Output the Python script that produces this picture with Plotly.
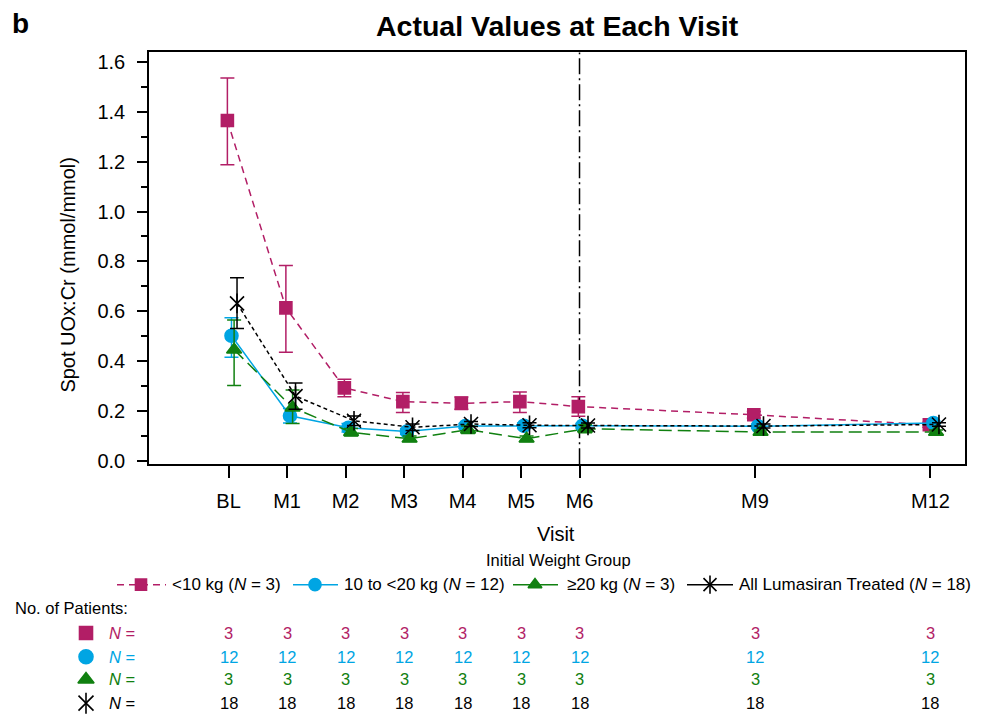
import plotly.graph_objects as go

# the page adds an 8px body margin; positions below are given in page pixels
OFF = 8
W, H = 986 - OFF, 722 - OFF

# ---------------- data ----------------
visits = ["BL", "M1", "M2", "M3", "M4", "M5", "M6", "M9", "M12"]
months = [0, 1, 2, 3, 4, 5, 6, 9, 12]

lt10_mean = [1.365, 0.614, 0.293, 0.238, 0.231, 0.238, 0.218, 0.185, 0.145]
lt10_upper = [1.536, 0.784, 0.328, 0.274, 0.256, 0.276, 0.257, 0.198, 0.155]
lt10_lower = [1.188, 0.436, 0.257, 0.194, 0.207, 0.194, 0.179, 0.172, 0.135]

mid_mean = [0.502, 0.181, 0.133, 0.118, 0.140, 0.141, 0.141, 0.139, 0.152]
mid_upper = [0.574, 0.210, 0.150, 0.130, 0.150, 0.152, 0.150, 0.147, 0.160]
mid_lower = [0.416, 0.152, 0.116, 0.106, 0.130, 0.130, 0.132, 0.131, 0.144]

ge20_mean = [0.446, 0.214, 0.115, 0.089, 0.125, 0.089, 0.129, 0.116, 0.116]
ge20_upper = [0.565, 0.284, 0.130, 0.100, 0.140, 0.100, 0.145, 0.124, 0.124]
ge20_lower = [0.303, 0.150, 0.100, 0.078, 0.110, 0.078, 0.113, 0.108, 0.108]

all_mean = [0.632, 0.260, 0.161, 0.135, 0.148, 0.143, 0.142, 0.140, 0.146]
all_upper = [0.735, 0.313, 0.180, 0.148, 0.158, 0.153, 0.152, 0.148, 0.153]
all_lower = [0.531, 0.207, 0.142, 0.122, 0.138, 0.133, 0.132, 0.132, 0.139]

n_lt10 = [3, 3, 3, 3, 3, 3, 3, 3, 3]
n_mid = [12, 12, 12, 12, 12, 12, 12, 12, 12]
n_ge20 = [3, 3, 3, 3, 3, 3, 3, 3, 3]
n_all = [18, 18, 18, 18, 18, 18, 18, 18, 18]

group_labels = ["&lt;10 kg (<i>N</i> = 3)", "10 to &lt;20 kg (<i>N</i> = 12)",
                "≥20 kg (<i>N</i> = 3)", "All Lumasiran Treated (<i>N</i> = 18)"]

# ---------------- styles ----------------
PINK, BLUE, GREEN, BLACK = "#B21E66", "#00A5E3", "#108010", "#000000"
FONT = "Liberation Sans, Arial, Helvetica, sans-serif"

groups = [
    dict(mean=lt10_mean, up=lt10_upper, lo=lt10_lower, n=n_lt10, color=PINK,
         dash="7px,5px", legdash="7px,5px", symbol="square", size=12, off=-0.02),
    dict(mean=mid_mean, up=mid_upper, lo=mid_lower, n=n_mid, color=BLUE,
         dash="solid", legdash="solid", symbol="circle", size=13, off=0.05),
    dict(mean=ge20_mean, up=ge20_upper, lo=ge20_lower, n=n_ge20, color=GREEN,
         dash="13px,6px", legdash="solid", symbol="triangle-up", size=13, off=0.095),
    dict(mean=all_mean, up=all_upper, lo=all_lower, n=n_all, color=BLACK,
         dash="4px,3px", legdash="solid", symbol="x-thin-open", size=14, off=0.145),
]

fig = go.Figure()

for g in groups:
    xs = [m + g["off"] for m in months]
    plus = [u - m for u, m in zip(g["up"], g["mean"])]
    minus = [m - l for l, m in zip(g["lo"], g["mean"])]
    fig.add_trace(go.Scatter(
        x=xs, y=g["mean"], mode="lines+markers",
        line=dict(color=g["color"], width=1.5, dash=g["dash"]),
        marker=dict(symbol=g["symbol"], size=g["size"], color=g["color"],
                    line=dict(color=g["color"], width=1.6)),
        error_y=dict(type="data", symmetric=False, array=plus, arrayminus=minus,
                     color=g["color"], thickness=1.5, width=7),
        showlegend=False, hoverinfo="skip", xaxis="x", yaxis="y"))
    if g["symbol"] == "x-thin-open":
        fig.add_trace(go.Scatter(
            x=xs, y=g["mean"], mode="markers",
            marker=dict(symbol="line-ns-open", size=g["size"], color=g["color"],
                        line=dict(color=g["color"], width=1.6)),
            showlegend=False, hoverinfo="skip", xaxis="x", yaxis="y"))

# reference line at M6
fig.add_shape(type="line", xref="x", yref="y domain", x0=6, x1=6, y0=0, y1=1,
              line=dict(color="black", width=1.5, dash="16px,4px,2px,4px"),
              layer="below")

# ---------------- legend (drawn manually in page-pixel overlay) ----------------
LEG_Y = 591
leg_items = [  # (line x0, line x1, marker x, text x)
    (117, 166, 141, 170),
    (293, 338, 315, 341.5),
    (513, 558, 535, 565),
    (687, 733, 710, 737),
]
for g, (lx0, lx1, mx, tx), lab in zip(groups, leg_items, group_labels):
    fig.add_trace(go.Scatter(
        x=[lx0, lx1], y=[LEG_Y, LEG_Y], mode="lines",
        line=dict(color=g["color"], width=1.5, dash=g["legdash"]),
        showlegend=False, hoverinfo="skip", xaxis="x2", yaxis="y2"))
    fig.add_trace(go.Scatter(
        x=[mx], y=[LEG_Y], mode="markers",
        marker=dict(symbol=g["symbol"], size=g["size"] - 1, color=g["color"],
                    line=dict(color=g["color"], width=1.6)),
        showlegend=False, hoverinfo="skip", xaxis="x2", yaxis="y2"))
    if g["symbol"] == "x-thin-open":
        fig.add_trace(go.Scatter(
            x=[mx], y=[LEG_Y], mode="markers",
            marker=dict(symbol="line-ns-open", size=g["size"] - 1, color=g["color"],
                        line=dict(color=g["color"], width=1.6)),
            showlegend=False, hoverinfo="skip", xaxis="x2", yaxis="y2"))
    fig.add_annotation(x=tx, y=LEG_Y, xref="x2", yref="y2", text=lab,
                       showarrow=False, xanchor="left", yanchor="middle",
                       font=dict(family=FONT, size=17, color="black"))

fig.add_annotation(x=558, y=566, xref="x2", yref="y2", text="Initial Weight Group",
                   showarrow=False, xanchor="center", yanchor="middle",
                   font=dict(family=FONT, size=16.5, color="black"))

# ---------------- No. of patients table ----------------
fig.add_annotation(x=13, y=615, xref="x2", yref="y2", text="No. of Patients:",
                   showarrow=False, xanchor="left", yanchor="middle",
                   font=dict(family=FONT, size=16.5, color="black"))
row_y = [640, 664, 687, 711]
for g, ry in zip(groups, row_y):
    fig.add_trace(go.Scatter(
        x=[86], y=[ry], mode="markers",
        marker=dict(symbol=g["symbol"], size=g["size"] + 1, color=g["color"],
                    line=dict(color=g["color"], width=1.6)),
        showlegend=False, hoverinfo="skip", xaxis="x2", yaxis="y2"))
    if g["symbol"] == "x-thin-open":
        fig.add_trace(go.Scatter(
            x=[86], y=[ry], mode="markers",
            marker=dict(symbol="line-ns-open", size=g["size"] + 1, color=g["color"],
                        line=dict(color=g["color"], width=1.6)),
            showlegend=False, hoverinfo="skip", xaxis="x2", yaxis="y2"))
    fig.add_annotation(x=107, y=ry, xref="x2", yref="y2", text="<i>N</i> =",
                       showarrow=False, xanchor="left", yanchor="middle",
                       font=dict(family=FONT, size=16.5, color=g["color"]))
    for m, n in zip(months, g["n"]):
        fig.add_annotation(x=m, y=ry, xref="x", yref="y2", text=str(n),
                           showarrow=False, xanchor="center", yanchor="middle",
                           font=dict(family=FONT, size=16.5, color=g["color"]))

# ---------------- titles ----------------
fig.add_annotation(x=20, y=23, xref="x2", yref="y2", text="<b>b</b>",
                   showarrow=False, xanchor="center", yanchor="middle",
                   font=dict(family=FONT, size=28, color="black"))
fig.add_annotation(x=557, y=25, xref="x2", yref="y2", text="<b>Actual Values at Each Visit</b>",
                   showarrow=False, xanchor="center", yanchor="middle",
                   font=dict(family=FONT, size=28.5, color="black"))
fig.add_annotation(x=68, y=277, xref="x2", yref="y2", text="Spot UOx:Cr (mmol/mmol)",
                   showarrow=False, xanchor="center", yanchor="middle", textangle=-90,
                   font=dict(family=FONT, size=20, color="black"))
fig.add_annotation(x=556, y=540, xref="x2", yref="y2", text="Visit",
                   showarrow=False, xanchor="center", yanchor="middle",
                   font=dict(family=FONT, size=20, color="black"))

# ---------------- layout ----------------
PL, PR, PT, PB = 149 - OFF, 965 - OFF, 52 - OFF, 469 - OFF  # plot box in figure px
fig.update_layout(
    width=W, height=H, margin=dict(l=0, r=0, t=0, b=0, pad=0),
    paper_bgcolor="white", plot_bgcolor="rgba(0,0,0,0)",
    font=dict(family=FONT, color="black"),
    showlegend=False, hovermode=False,
    xaxis=dict(domain=[PL / W, PR / W], range=[-1.36, 12.59],
               tickmode="array", tickvals=months, ticktext=visits,
               ticks="outside", ticklen=12, tickwidth=1.5, tickcolor="black",
               showline=True, linecolor="black", linewidth=1.5, mirror=True,
               showgrid=False, zeroline=False, ticklabelstandoff=6,
               tickfont=dict(family=FONT, size=20, color="black"), anchor="y"),
    yaxis=dict(domain=[(H - PB) / H, (H - PT) / H], range=[-0.013, 1.638],
               tick0=0, dtick=0.2, tickformat=".1f",
               ticks="outside", ticklen=10, tickwidth=1.5, tickcolor="black",
               minor=dict(tick0=0, dtick=0.1, ticks="outside", ticklen=6,
                          tickwidth=1.5, tickcolor="black", showgrid=False),
               showline=True, linecolor="black", linewidth=1.5, mirror=True,
               showgrid=False, zeroline=False, ticklabelstandoff=8,
               tickfont=dict(family=FONT, size=20, color="black"), anchor="x"),
    # overlay in page-pixel coordinates (for titles, legend and table)
    xaxis2=dict(domain=[0, 1], range=[OFF, W + OFF], visible=False, anchor="y2",
                fixedrange=True),
    yaxis2=dict(domain=[0, 1], range=[H + OFF, OFF], visible=False, anchor="x2",
                fixedrange=True),
)

fig.write_html("out.html", config={"displayModeBar": False})
